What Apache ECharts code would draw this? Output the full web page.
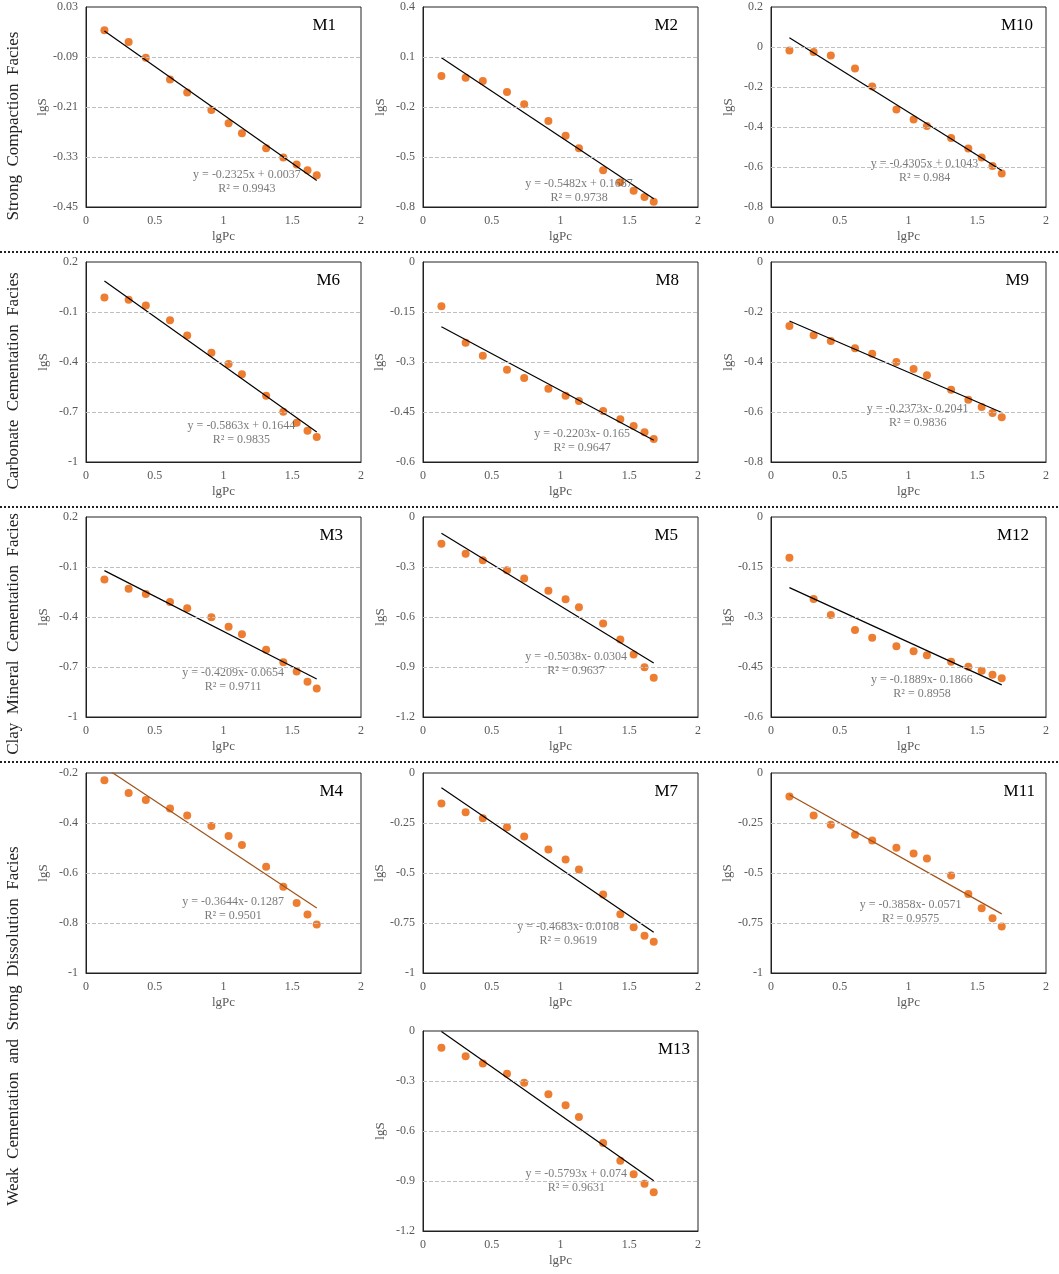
<!DOCTYPE html>
<html>
<head>
<meta charset="utf-8">
<title>lgS - lgPc</title>
<script src="https://cdn.jsdelivr.net/npm/echarts@6/dist/echarts.min.js"></script>
<style>
html,body{margin:0;padding:0;background:#fff;}
#main{width:1059px;height:1274px;}
</style>
</head>
<body>
<div id="main"></div>
<script>
// x values, shared by every sample
var lgPc = [0.134, 0.310, 0.435, 0.611, 0.736, 0.912, 1.037, 1.134, 1.310, 1.435, 1.532, 1.611, 1.678];

var lgS_M1  = [-0.026, -0.054, -0.092, -0.144, -0.175, -0.217, -0.249, -0.273, -0.309, -0.331, -0.348, -0.362, -0.374];
var lgS_M2  = [-0.014, -0.024, -0.044, -0.110, -0.184, -0.284, -0.372, -0.448, -0.580, -0.652, -0.702, -0.740, -0.768];
var lgS_M10 = [-0.017, -0.025, -0.042, -0.108, -0.198, -0.312, -0.362, -0.395, -0.455, -0.508, -0.552, -0.595, -0.633];
var lgS_M6  = [-0.013, -0.027, -0.061, -0.149, -0.241, -0.344, -0.412, -0.474, -0.603, -0.699, -0.765, -0.813, -0.850];
var lgS_M8  = [-0.133, -0.242, -0.281, -0.323, -0.348, -0.380, -0.401, -0.417, -0.447, -0.472, -0.492, -0.511, -0.531];
var lgS_M9  = [-0.256, -0.293, -0.316, -0.345, -0.367, -0.400, -0.428, -0.453, -0.511, -0.551, -0.580, -0.604, -0.621];
var lgS_M3  = [-0.175, -0.231, -0.262, -0.310, -0.348, -0.402, -0.458, -0.504, -0.597, -0.671, -0.727, -0.789, -0.829];
var lgS_M5  = [-0.160, -0.220, -0.260, -0.319, -0.369, -0.443, -0.493, -0.541, -0.639, -0.735, -0.825, -0.901, -0.964];
var lgS_M12 = [-0.122, -0.246, -0.294, -0.339, -0.362, -0.388, -0.403, -0.415, -0.434, -0.449, -0.461, -0.473, -0.484];
var lgS_M4  = [-0.229, -0.280, -0.308, -0.342, -0.370, -0.412, -0.452, -0.488, -0.575, -0.655, -0.720, -0.766, -0.806];
var lgS_M7  = [-0.153, -0.196, -0.226, -0.271, -0.317, -0.382, -0.432, -0.483, -0.608, -0.706, -0.771, -0.814, -0.844];
var lgS_M11 = [-0.118, -0.213, -0.259, -0.309, -0.337, -0.374, -0.402, -0.427, -0.513, -0.605, -0.676, -0.726, -0.767];
var lgS_M13 = [-0.100, -0.151, -0.195, -0.257, -0.311, -0.379, -0.446, -0.516, -0.672, -0.779, -0.859, -0.917, -0.967];

var samples = ['M1', 'M2', 'M10', 'M6', 'M8', 'M9', 'M3', 'M5', 'M12', 'M4', 'M7', 'M11', 'M13'];
var lgS = [lgS_M1, lgS_M2, lgS_M10, lgS_M6, lgS_M8, lgS_M9, lgS_M3, lgS_M5, lgS_M12, lgS_M4, lgS_M7, lgS_M11, lgS_M13];

// fitted lines y = a x + b
var slopes     = [-0.2325, -0.5482, -0.4305, -0.5863, -0.2203, -0.2373, -0.4209, -0.5038, -0.1889, -0.3644, -0.4683, -0.3858, -0.5793];
var intercepts = [0.0037, 0.1687, 0.1043, 0.1644, -0.165, -0.2041, -0.0654, -0.0304, -0.1866, -0.1287, -0.0108, -0.0571, 0.074];
var r2         = ['0.9943', '0.9738', '0.984', '0.9835', '0.9647', '0.9836', '0.9711', '0.9637', '0.8958', '0.9501', '0.9619', '0.9575', '0.9631'];
var eqLabels = [
    'y = -0.2325x + 0.0037', 'y = -0.5482x + 0.1687', 'y = -0.4305x + 0.1043',
    'y = -0.5863x + 0.1644', 'y = -0.2203x- 0.165', 'y = -0.2373x- 0.2041',
    'y = -0.4209x- 0.0654', 'y = -0.5038x- 0.0304', 'y = -0.1889x- 0.1866',
    'y = -0.3644x- 0.1287', 'y = -0.4683x- 0.0108', 'y = -0.3858x- 0.0571',
    'y = -0.5793x + 0.074'
];

// y tick labels per panel
var yTicks = [
    [-0.45, -0.33, -0.21, -0.09, 0.03],
    [-0.8, -0.5, -0.2, 0.1, 0.4],
    [-0.8, -0.6, -0.4, -0.2, 0, 0.2],
    [-1, -0.7, -0.4, -0.1, 0.2],
    [-0.6, -0.45, -0.3, -0.15, 0],
    [-0.8, -0.6, -0.4, -0.2, 0],
    [-1, -0.7, -0.4, -0.1, 0.2],
    [-1.2, -0.9, -0.6, -0.3, 0],
    [-0.6, -0.45, -0.3, -0.15, 0],
    [-1, -0.8, -0.6, -0.4, -0.2],
    [-1, -0.75, -0.5, -0.25, 0],
    [-1, -0.75, -0.5, -0.25, 0],
    [-1.2, -0.9, -0.6, -0.3, 0]
];
var xTicks = [0, 0.5, 1, 1.5, 2];

var facies = [
    'Strong  Compaction  Facies',
    'Carbonate  Cementation  Facies',
    'Clay  Mineral  Cementation  Facies',
    'Weak  Cementation  and  Strong  Dissolution  Facies'
];

// layout (pixels / data anchors)
var colLeft = [86, 423, 771];
var rowTop = [7, 262, 517, 773, 1031];
var gridW = 275, gridH = 200;
var cells = [[0,0],[0,1],[0,2],[1,0],[1,1],[1,2],[2,0],[2,1],[2,2],[3,0],[3,1],[3,2],[4,1]];
var eqPos = [[1.17,-0.372],[1.135,-0.664],[1.117,-0.582],[1.13,-0.781],[1.157,-0.517],[1.067,-0.587],
             [1.07,-0.733],[1.113,-0.839],[1.098,-0.49],[1.07,-0.717],[1.056,-0.767],[1.015,-0.66],[1.115,-0.857]];
var titleInset = [20, 15, 8, 16, 14, 12, 13, 15, 12, 13, 15, 6, 3];
var faciesY = [126, 381, 634, 1026];
var sepY = [252, 507, 762];

var FONT = 'Liberation Serif';
var GRAY = '#595959';
var lineColor = ['#000','#000','#000','#000','#000','#000','#000','#000','#000','#a0521a','#000','#a0521a','#000'];

var grids = [], xAxes = [], yAxes = [], series = [], titles = [];

samples.forEach(function (name, i) {
    var left = colLeft[cells[i][1]], top = rowTop[cells[i][0]];
    var ticks = yTicks[i];
    grids.push({left: left, top: top, width: gridW, height: gridH,
        show: true, borderColor: '#222', borderWidth: 1, backgroundColor: '#fff'});
    xAxes.push({
        gridIndex: i, type: 'value', min: 0, max: 2, interval: 0.5,
        name: 'lgPc', nameLocation: 'middle', nameGap: 23,
        nameTextStyle: {color: GRAY, fontSize: 13, fontFamily: FONT},
        axisLine: {onZero: false, lineStyle: {color: '#222'}},
        axisTick: {show: false},
        splitLine: {show: false},
        axisLabel: {color: GRAY, fontSize: 12, fontFamily: FONT, margin: 8, customValues: xTicks}
    });
    yAxes.push({
        gridIndex: i, type: 'value', min: ticks[0], max: ticks[ticks.length - 1],
        name: 'lgS', nameLocation: 'middle', nameGap: 36, nameRotate: 90,
        nameTextStyle: {color: GRAY, fontSize: 13, fontFamily: FONT},
        axisLine: {show: true, onZero: false, lineStyle: {color: '#222'}},
        axisTick: {show: false},
        splitLine: {show: false},
        axisLabel: {color: GRAY, fontSize: 12, fontFamily: FONT, margin: 8, customValues: ticks}
    });
    titles.push({
        text: name, right: 1059 - (left + gridW) + titleInset[i], top: top + 5,
        textStyle: {color: '#000', fontSize: 17, fontWeight: 'normal', fontFamily: FONT}
    });

    var pts = lgPc.map(function (x, k) { return [x, lgS[i][k]]; });
    series.push({
        type: 'scatter', xAxisIndex: i, yAxisIndex: i, data: pts,
        symbolSize: 8, itemStyle: {color: '#ED7D31', opacity: 1}, z: 3,
        markLine: {
            silent: true, symbol: ['none', 'none'], label: {show: false},
            lineStyle: {type: 'dashed', color: '#bfbfbf', width: 1},
            data: ticks.slice(1, -1).map(function (v) { return {yAxis: v}; })
        }
    });
    var x0 = lgPc[0], x1 = lgPc[lgPc.length - 1];
    series.push({
        type: 'line', xAxisIndex: i, yAxisIndex: i, clip: true,
        data: [[x0, slopes[i] * x0 + intercepts[i]], [x1, slopes[i] * x1 + intercepts[i]]],
        symbol: 'none', lineStyle: {color: lineColor[i], width: 1.2}, z: 4
    });
    series.push({
        type: 'scatter', xAxisIndex: i, yAxisIndex: i, silent: true,
        data: [eqPos[i]], symbolSize: 0, z: 5,
        label: {
            show: true, position: 'inside', offset: [0, 7],
            formatter: eqLabels[i] + '\nR² = ' + r2[i],
            color: GRAY, fontSize: 12, fontFamily: FONT, lineHeight: 14, align: 'center'
        }
    });
});

var graphics = [];
facies.forEach(function (t, r) {
    graphics.push({
        type: 'text', x: 14, y: faciesY[r], rotation: Math.PI / 2,
        style: {text: t, fill: '#222', font: '17px "Liberation Serif"', textAlign: 'center', textVerticalAlign: 'middle'}
    });
});
sepY.forEach(function (y) {
    graphics.push({
        type: 'line', shape: {x1: 0, y1: y, x2: 1059, y2: y},
        style: {stroke: '#222', lineWidth: 2, lineDash: [2, 2]}
    });
});

var myChart = echarts.init(document.getElementById('main'));
myChart.setOption({
    animation: false,
    backgroundColor: '#fff',
    textStyle: {fontFamily: FONT},
    title: titles,
    grid: grids,
    xAxis: xAxes,
    yAxis: yAxes,
    series: series,
    graphic: graphics
});
</script>
</body>
</html>
